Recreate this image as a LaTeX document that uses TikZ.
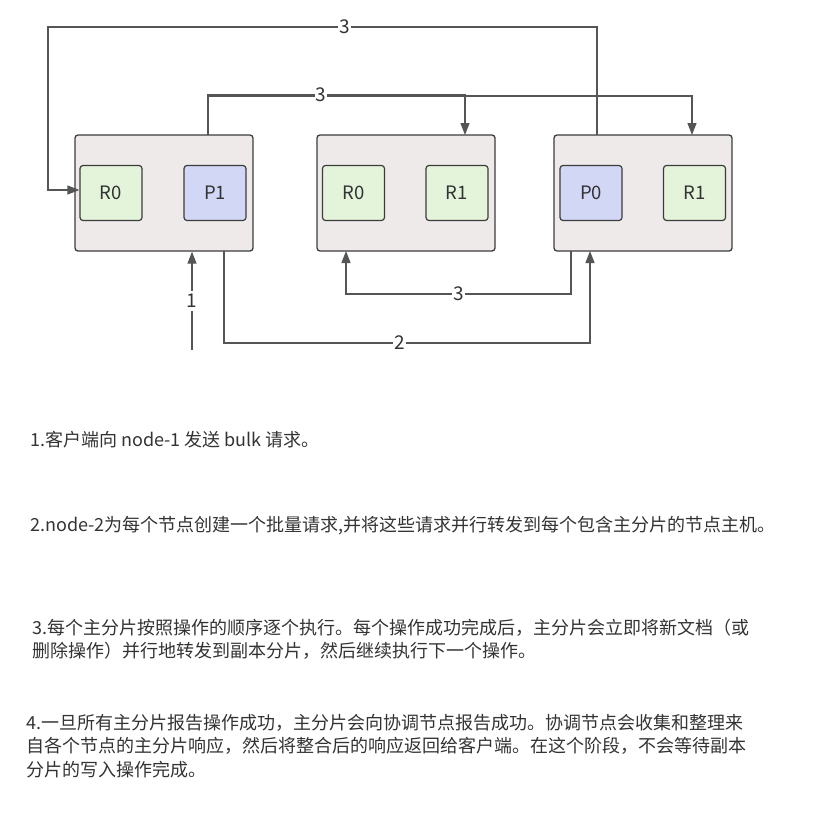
\documentclass[tikz,border=0pt]{standalone}
\usepackage{fontspec}
\setmainfont{Noto Sans CJK SC}
\usetikzlibrary{arrows.meta}
\definecolor{hostfill}{HTML}{EEEAEA}
\definecolor{replfill}{HTML}{E3F4DA}
\definecolor{primfill}{HTML}{D3D7F6}
\definecolor{edgeclr}{HTML}{555555}
\definecolor{borderclr}{HTML}{3C3C3C}
\definecolor{txtclr}{HTML}{333333}
\begin{document}
\begin{tikzpicture}[x=1pt,y=-1pt,
  host/.style={draw=borderclr,fill=hostfill,line width=1.3pt,rounded corners=3pt,
    minimum width=178pt,minimum height=116pt,inner sep=0pt},
  shard/.style={draw=borderclr,line width=1.2pt,rounded corners=3pt,
    minimum width=62pt,minimum height=55pt,inner sep=0pt,
    font=\fontsize{18.5}{18.5}\selectfont,text=txtclr},
  replica/.style={shard,fill=replfill},
  primary/.style={shard,fill=primfill},
  link/.style={draw=edgeclr,line width=1.3pt},
  flow/.style={link,-{Triangle[length=12pt,width=9pt]}},
  steplabel/.style={fill=white,inner xsep=1pt,inner ysep=3pt,text=txtclr,font=\fontsize{19}{19}\selectfont},
  note/.style={anchor=west,inner sep=0pt,text=txtclr,font=\fontsize{18}{18}\selectfont}]
\useasboundingbox (0,0) rectangle (816,814);

% hosts
\node[host] (n1) at (164,193) {};
\node[host] (n2) at (406,193) {};
\node[host] (n3) at (643,193) {};

% shards
\node[replica] (n1r0) at (111,193) {R0};
\node[primary] (n1p1) at (215,193) {P1};
\node[replica] (n2r0) at (353.5,193) {R0};
\node[replica] (n2r1) at (457,193) {R1};
\node[primary] (n3p0) at (591,193) {P0};
\node[replica] (n3r1) at (694.5,193) {R1};

% step 1: client request into node-1
\coordinate (client) at (192,350);
\draw[flow] (client) -- node[steplabel,pos=0.5] {1} (client |- n1.south);

% step 2: node-1 forwards to the primary holder
\draw[flow] (224,251) -- (224,343) -- node[steplabel,pos=0.48] {2} (590,343) -- (590,251);

% step 3: primaries replicate to replicas
\draw[flow] (571,251) -- (571,294) -- node[steplabel,pos=0.5] {3} (346,294) -- (346,251);
\draw[flow] (597,135) -- (597,27) -- node[steplabel,pos=0.46] {3} (48,27) -- (48,190) -- (n1r0.west |- 0,190);
\draw[flow] (208,135) -- (208,96) -- (692,96) -- (692,135);
\draw[flow] (208,96) -- (208,95) -- node[steplabel,pos=0.44] {3} (465,95) -- (465,135);

% notes
\node[note] (t1) at (30,440) {1.客户端向 node-1 发送 bulk 请求。};
\node[note] (t2) at (30,526) {2.node-2为每个节点创建一个批量请求,并将这些请求并行转发到每个包含主分片的节点主机。};
\node[note] (t3a) at (32,628) {3.每个主分片按照操作的顺序逐个执行。每个操作成功完成后，主分片会立即将新文档（或};
\node[note] (t3b) at (32,651) {删除操作）并行地转发到副本分片，然后继续执行下一个操作。};
\node[note] (t4a) at (26,723) {4.一旦所有主分片报告操作成功，主分片会向协调节点报告成功。协调节点会收集和整理来};
\node[note] (t4b) at (26,746) {自各个节点的主分片响应，然后将整合后的响应返回给客户端。在这个阶段，不会等待副本};
\node[note] (t4c) at (26,770) {分片的写入操作完成。};
\end{tikzpicture}
\end{document}
